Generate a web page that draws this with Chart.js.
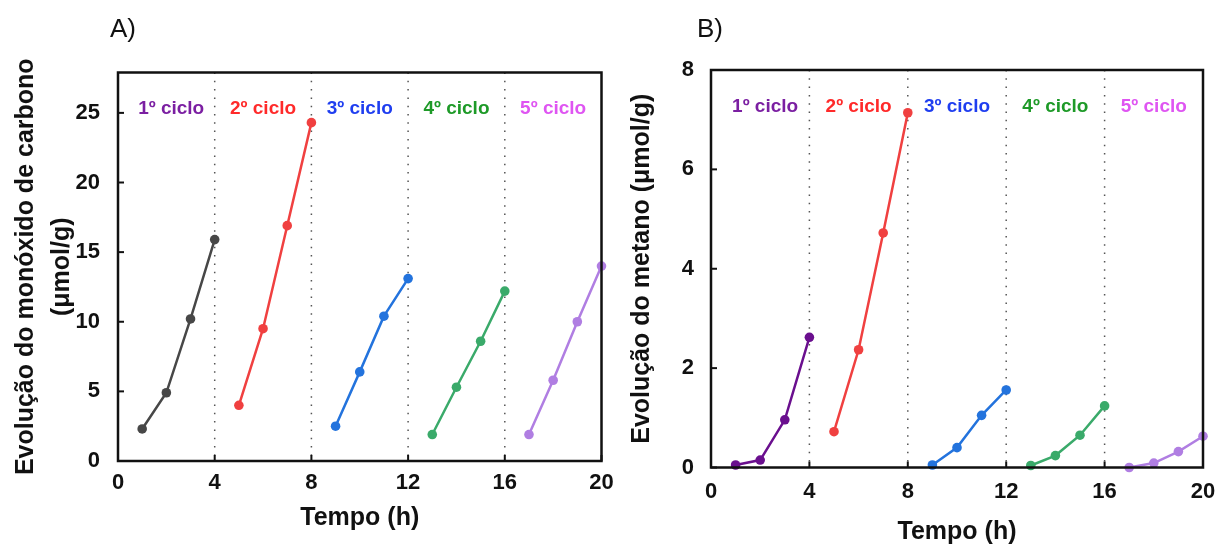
<!DOCTYPE html>
<html lang="pt">
<head>
<meta charset="utf-8">
<title>Evolução de CO e CH4 por ciclo</title>
<script src="https://cdn.jsdelivr.net/npm/chart.js@4.4.1/dist/chart.umd.min.js"></script>
<style>
  html, body { margin: 0; padding: 0; background: #fff; }
  body { width: 1219px; height: 547px; position: relative; overflow: hidden; font-family: 'Liberation Sans', Arial, sans-serif; }
  .painel { position: absolute; top: 0; height: 547px; }
  #painelA { left: 0; width: 620px; }
  #painelB { left: 610px; width: 609px; }
  .letra { position: absolute; top: 15px; font-size: 26px; line-height: 26px; color: #111; z-index: 2; }
</style>
</head>
<body>
<div class="painel" id="painelA"><canvas id="graficoCO"></canvas></div>
<div class="painel" id="painelB"><canvas id="graficoCH4"></canvas></div>
<div class="letra" style="left:110px">A)</div>
<div class="letra" style="left:697px">B)</div>

<script>
// horas de reação: 4 pontos por ciclo
const horas = [1, 2, 3, 4, 5, 6, 7, 8, 9, 10, 11, 12, 13, 14, 15, 16, 17, 18, 19, 20];
const ciclos = ['1º ciclo', '2º ciclo', '3º ciclo', '4º ciclo', '5º ciclo'];
const divisores = [4, 8, 12, 16];
const ticksX = [0, 4, 8, 12, 16, 20];

// monóxido de carbono (µmol/g)
const coCiclo1 = [2.3, 4.9, 10.2, 15.9];
const coCiclo2 = [4.0, 9.5, 16.9, 24.3];
const coCiclo3 = [2.5, 6.4, 10.4, 13.1];
const coCiclo4 = [1.9, 5.3, 8.6, 12.2];
const coCiclo5 = [1.9, 5.8, 10.0, 14.0];
const ticksCO = [0, 5, 10, 15, 20, 25];

// metano (µmol/g)
const ch4Ciclo1 = [0.05, 0.15, 0.96, 2.62];
const ch4Ciclo2 = [0.72, 2.37, 4.72, 7.14];
const ch4Ciclo3 = [0.05, 0.40, 1.05, 1.56];
const ch4Ciclo4 = [0.04, 0.24, 0.65, 1.24];
const ch4Ciclo5 = [0.00, 0.09, 0.32, 0.63];
const ticksCH4 = [0, 2, 4, 6, 8];

const coresRotulos = ['#7b1fa2', '#ff2a2a', '#1f3ef0', '#1e9a28', '#df55f2'];
const coresCO = ['#474747', '#f04040', '#2373dd', '#3aaa6a', '#b07ee2'];
const coresCH4 = ['#6a0f8e', '#f04040', '#2373dd', '#3aaa6a', '#b07ee2'];

const FONTE = "'Liberation Sans', Arial, sans-serif";
Chart.defaults.font.family = FONTE;
Chart.defaults.color = '#111';

function montaSeries(series, cores) {
  return series.map((valores, i) => ({
    label: ciclos[i],
    data: valores.map((v, j) => ({ x: horas[i * 4 + j], y: v })),
    borderColor: cores[i],
    backgroundColor: cores[i],
    pointBackgroundColor: cores[i],
    pointBorderColor: cores[i],
    borderWidth: 2.5,
    pointRadius: 4.8,
    pointBorderWidth: 0,
    tension: 0,
    clip: false
  }));
}

// moldura completa, ticks para dentro, linhas pontilhadas e rótulos dos ciclos
const moldura = {
  id: 'moldura',
  beforeDatasetsDraw(chart, args, opts) {
    const { ctx, chartArea: a, scales: { x } } = chart;
    ctx.save();
    ctx.strokeStyle = '#555';
    ctx.lineWidth = 1.5;
    ctx.setLineDash([1.5, 6.8]);
    divisores.forEach(h => {
      const px = x.getPixelForValue(h);
      ctx.beginPath();
      ctx.moveTo(px, a.top);
      ctx.lineTo(px, a.bottom);
      ctx.stroke();
    });
    ctx.setLineDash([]);
    ctx.font = 'bold 19px ' + FONTE;
    ctx.textAlign = 'center';
    ctx.textBaseline = 'middle';
    ciclos.forEach((txt, i) => {
      ctx.fillStyle = coresRotulos[i];
      ctx.fillText(txt, x.getPixelForValue(opts.centros[i]), a.top + opts.rotuloY);
    });
    ctx.restore();
  },
  afterDraw(chart) {
    const { ctx, chartArea: a, scales: { x, y } } = chart;
    ctx.save();
    ctx.strokeStyle = '#111';
    ctx.lineWidth = 2.5;
    ctx.strokeRect(a.left, a.top, a.right - a.left, a.bottom - a.top);
    ctx.lineWidth = 2;
    y.ticks.forEach(t => {
      const py = y.getPixelForValue(t.value);
      ctx.beginPath();
      ctx.moveTo(a.left, py);
      ctx.lineTo(a.left + 6, py);
      ctx.stroke();
    });
    x.ticks.forEach(t => {
      const px = x.getPixelForValue(t.value);
      ctx.beginPath();
      ctx.moveTo(px, a.bottom);
      ctx.lineTo(px, a.bottom - 6);
      ctx.stroke();
    });
    ctx.restore();
  }
};

function criaGrafico(id, cfg) {
  return new Chart(document.getElementById(id), {
    type: 'line',
    data: { datasets: montaSeries(cfg.series, cfg.cores) },
    options: {
      responsive: true,
      maintainAspectRatio: false,
      animation: false,
      layout: { padding: cfg.padding },
      plugins: {
        legend: { display: false },
        tooltip: { enabled: false },
        moldura: { centros: [2.2, 6, 10, 14, 18], rotuloY: 36.5 }
      },
      scales: {
        x: {
          type: 'linear',
          min: 0,
          max: 20,
          afterFit: s => { s.height = cfg.alturaX; },
          afterBuildTicks: s => { s.ticks = ticksX.map(v => ({ value: v })); },
          grid: { display: false },
          border: { display: false },
          ticks: { font: { size: 22, weight: 'bold' }, padding: cfg.padX, maxRotation: 0 },
          title: {
            display: true,
            text: 'Tempo (h)',
            font: { size: 25, weight: 'bold', lineHeight: 1.2 },
            padding: { top: 0, bottom: cfg.titX }
          }
        },
        y: {
          type: 'linear',
          min: 0,
          max: cfg.maxY,
          afterFit: s => { s.width = cfg.larguraY; },
          afterBuildTicks: s => { s.ticks = cfg.ticksY.map(v => ({ value: v })); },
          grid: { display: false },
          border: { display: false },
          ticks: { font: { size: 22, weight: 'bold' }, padding: cfg.padY },
          title: {
            display: true,
            text: cfg.tituloY,
            font: { size: 25, weight: 'bold', lineHeight: cfg.linhaY },
            padding: { top: cfg.titY, bottom: 0 }
          }
        }
      }
    },
    plugins: [moldura]
  });
}

criaGrafico('graficoCO', {
  series: [coCiclo1, coCiclo2, coCiclo3, coCiclo4, coCiclo5],
  cores: coresCO,
  maxY: 27.9,
  ticksY: ticksCO,
  tituloY: ['Evolução do monóxido de carbono', '(μmol/g)'],
  linhaY: 1.44,
  titY: 8,
  larguraY: 118,
  alturaX: 86,
  padX: 1,
  padY: 10,
  titX: 14,
  padding: { top: 72.5, right: 18.5, left: 0, bottom: 0 }
});

criaGrafico('graficoCH4', {
  series: [ch4Ciclo1, ch4Ciclo2, ch4Ciclo3, ch4Ciclo4, ch4Ciclo5],
  cores: coresCH4,
  maxY: 8,
  ticksY: ticksCH4,
  tituloY: 'Evolução do metano (μmol/g)',
  linhaY: 1.2,
  titY: 16.7,
  larguraY: 101,
  alturaX: 79.5,
  padX: 3,
  padY: 9,
  titX: 0,
  padding: { top: 70, right: 16, left: 0, bottom: 0 }
});
</script>
</body>
</html>
